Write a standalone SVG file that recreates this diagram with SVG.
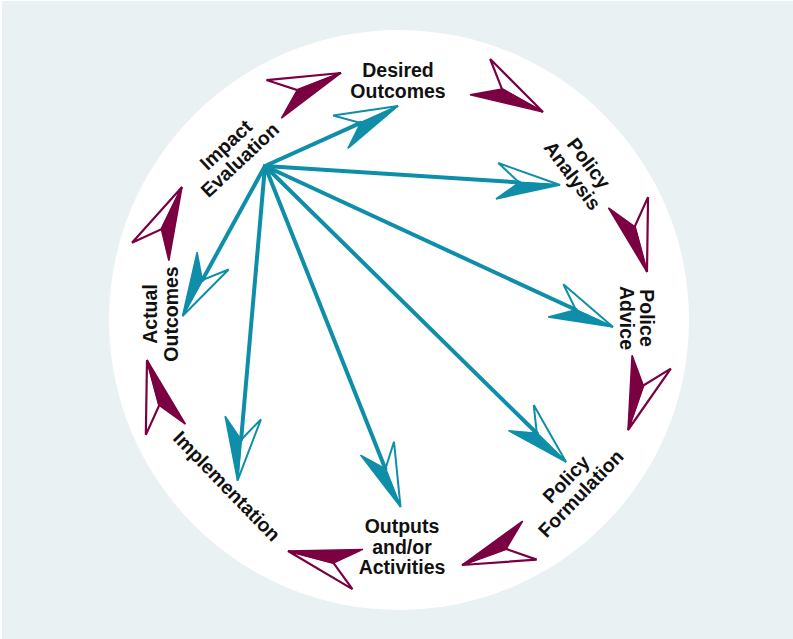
<svg xmlns="http://www.w3.org/2000/svg" xmlns:xlink="http://www.w3.org/1999/xlink" width="793" height="639" viewBox="0 0 793 639">
  <style>
    .label { font-family: "Liberation Sans", Arial, Helvetica, sans-serif; font-weight: bold; font-size: 19.5px; fill: #111; text-anchor: middle; }
    .shaft { stroke: #0e8ea8; stroke-width: 4; fill: none; stroke-linecap: round; }
    .teal-fill { fill: #0e8ea8; stroke: #0e8ea8; stroke-width: 1.5; stroke-linejoin: miter; }
    .teal-open { fill: none; stroke: #0e8ea8; stroke-width: 2; stroke-linejoin: miter; }
    .cycle-fill { fill: #7a0042; stroke: #7a0042; stroke-width: 1.5; stroke-linejoin: miter; }
    .cycle-open { fill: none; stroke: #7a0042; stroke-width: 2.2; stroke-linejoin: miter; }
  </style>
  <defs>
    <!-- split dart head: filled on the clockwise side, open on the other; shaft ends at the notch -->
    <marker id="tealHead" markerUnits="userSpaceOnUse" orient="auto" refX="-41" refY="0" markerWidth="80" markerHeight="50" overflow="visible">
      <path class="teal-fill" d="M0,0 L-63,18 L-41,0 Z"/>
      <path class="teal-open" d="M0,0 L-63,-18 L-41,0 Z"/>
    </marker>
    <!-- cycle arrowhead, tip at origin pointing along +x -->
    <g id="cycleHead">
      <path class="cycle-fill" d="M0,0 L-72,20.5 L-47,0 Z"/>
      <path class="cycle-open" d="M0,0 L-72,-20.5 L-47,0 Z"/>
    </g>
  </defs>

  <!-- backdrop -->
  <rect x="0" y="0" width="793" height="639" fill="#ffffff"/>
  <rect x="2" y="1" width="791" height="638" fill="#e9f1f3"/>
  <circle cx="399" cy="320" r="290" fill="#ffffff"/>

  <g id="connectors">
    <!-- policy cycle, clockwise -->
    <g id="cycle">
      <use xlink:href="#cycleHead" transform="translate(341,73) rotate(-21.3)"/>
      <use xlink:href="#cycleHead" transform="translate(543,112) rotate(29.2)"/>
      <use xlink:href="#cycleHead" transform="translate(647,272) rotate(74.9)"/>
      <use xlink:href="#cycleHead" transform="translate(628,430) rotate(109)"/>
      <use xlink:href="#cycleHead" transform="translate(462,565) rotate(160)"/>
      <use xlink:href="#cycleHead" transform="translate(288,551) rotate(194.7)"/>
      <use xlink:href="#cycleHead" transform="translate(147,360) rotate(255)"/>
      <use xlink:href="#cycleHead" transform="translate(182,187) rotate(-64)"/>
    </g>
    <!-- impact evaluation fans out to every stage -->
    <g id="evaluation-links">
      <line class="shaft" x1="265" y1="166" x2="360.6" y2="122.9" marker-end="url(#tealHead)"/>
      <line class="shaft" x1="265" y1="166" x2="519.1" y2="182.4" marker-end="url(#tealHead)"/>
      <line class="shaft" x1="265" y1="166" x2="575.8" y2="309.8" marker-end="url(#tealHead)"/>
      <line class="shaft" x1="265" y1="166" x2="536.8" y2="433.3" marker-end="url(#tealHead)"/>
      <line class="shaft" x1="265" y1="166" x2="385.4" y2="468.9" marker-end="url(#tealHead)"/>
      <line class="shaft" x1="265" y1="166" x2="241.1" y2="439.7" marker-end="url(#tealHead)"/>
      <line class="shaft" x1="265" y1="166" x2="202.3" y2="280.1" marker-end="url(#tealHead)"/>
    </g>
  </g>

  <g id="desired-outcomes">
    <text class="label" transform="translate(398,80.3)"><tspan x="0" y="-3">Desired</tspan><tspan x="0" y="17.5">Outcomes</tspan></text>
  </g>
  <g id="policy-analysis">
    <text class="label" transform="translate(581,169) rotate(53)"><tspan x="0" y="-3">Policy</tspan><tspan x="0" y="17.5">Analysis</tspan></text>
  </g>
  <g id="police-advice">
    <text class="label" transform="translate(637,318) rotate(90)"><tspan x="0" y="-3">Police</tspan><tspan x="0" y="17.5">Advice</tspan></text>
  </g>
  <g id="policy-formulation">
    <text class="label" transform="translate(573,486) rotate(-46)"><tspan x="0" y="-3">Policy</tspan><tspan x="0" y="17.5">Formulation</tspan></text>
  </g>
  <g id="outputs-activities">
    <text class="label"><tspan x="402" y="533">Outputs</tspan><tspan x="402" y="554">and/or</tspan><tspan x="402" y="574">Activities</tspan></text>
  </g>
  <g id="implementation">
    <text class="label" transform="translate(227,486) rotate(46)"><tspan x="0" y="7">Implementation</tspan></text>
  </g>
  <g id="actual-outcomes">
    <text class="label" transform="translate(160,314) rotate(-90)"><tspan x="0" y="-3">Actual</tspan><tspan x="0" y="17.5">Outcomes</tspan></text>
  </g>
  <g id="impact-evaluation">
    <text class="label" transform="translate(232.5,152) rotate(-43)"><tspan x="0" y="-3">Impact</tspan><tspan x="0" y="17.5">Evaluation</tspan></text>
  </g>
</svg>
